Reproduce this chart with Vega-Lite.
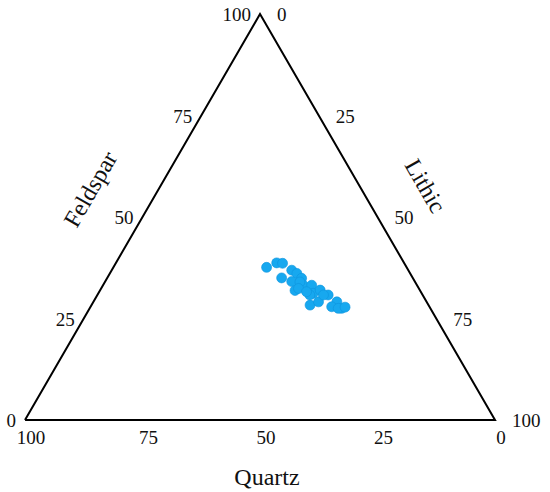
{
  "$schema": "https://vega.github.io/schema/vega-lite/v6.json",
  "width": 550,
  "height": 492,
  "autosize": {"type": "none"},
  "padding": 0,
  "background": "white",
  "view": {"stroke": null},
  "config": {"text": {"font": "Times New Roman, Liberation Serif, DejaVu Serif, serif", "color": "#111111"}},
  "datasets": {
    "triangle": [
      {"k": 0, "Q": 100, "F": 0, "L": 0},
      {"k": 1, "Q": 0, "F": 100, "L": 0},
      {"k": 2, "Q": 0, "F": 0, "L": 100},
      {"k": 3, "Q": 100, "F": 0, "L": 0}
    ],
    "ticks": [
      {"side": "Feldspar", "label": "0", "F": 0, "L": 0},
      {"side": "Feldspar", "label": "25", "F": 25, "L": 0},
      {"side": "Feldspar", "label": "50", "F": 50, "L": 0},
      {"side": "Feldspar", "label": "75", "F": 75, "L": 0},
      {"side": "Feldspar", "label": "100", "F": 100, "L": 0},
      {"side": "Lithic", "label": "0", "F": 100, "L": 0},
      {"side": "Lithic", "label": "25", "F": 75, "L": 25},
      {"side": "Lithic", "label": "50", "F": 50, "L": 50},
      {"side": "Lithic", "label": "75", "F": 25, "L": 75},
      {"side": "Lithic", "label": "100", "F": 0, "L": 100},
      {"side": "Quartz", "label": "100", "F": 0, "L": 0},
      {"side": "Quartz", "label": "75", "F": 0, "L": 25},
      {"side": "Quartz", "label": "50", "F": 0, "L": 50},
      {"side": "Quartz", "label": "25", "F": 0, "L": 75},
      {"side": "Quartz", "label": "0", "F": 0, "L": 100}
    ],
    "titles": [
      {"name": "Quartz", "F": 0, "L": 50},
      {"name": "Feldspar", "F": 50, "L": 0},
      {"name": "Lithic", "F": 50, "L": 50}
    ],
    "samples": [
      {"Q": 29.8, "F": 37.6, "L": 32.6},
      {"Q": 27.1, "F": 38.7, "L": 34.2},
      {"Q": 25.9, "F": 38.6, "L": 35.5},
      {"Q": 27.9, "F": 35.0, "L": 37.1},
      {"Q": 24.8, "F": 36.9, "L": 38.3},
      {"Q": 24.1, "F": 36.1, "L": 39.8},
      {"Q": 26.2, "F": 34.1, "L": 39.7},
      {"Q": 23.7, "F": 34.9, "L": 41.4},
      {"Q": 26.6, "F": 31.9, "L": 41.5},
      {"Q": 24.2, "F": 33.2, "L": 42.6},
      {"Q": 22.4, "F": 33.2, "L": 44.4},
      {"Q": 23.1, "F": 31.2, "L": 45.7},
      {"Q": 21.2, "F": 32.0, "L": 46.8},
      {"Q": 24.0, "F": 30.8, "L": 45.2},
      {"Q": 20.1, "F": 30.8, "L": 49.1},
      {"Q": 25.2, "F": 28.3, "L": 46.5},
      {"Q": 23.0, "F": 29.1, "L": 47.9},
      {"Q": 19.1, "F": 29.1, "L": 51.8},
      {"Q": 20.8, "F": 27.9, "L": 51.3},
      {"Q": 18.9, "F": 27.5, "L": 53.6},
      {"Q": 19.6, "F": 27.5, "L": 52.9},
      {"Q": 24.5, "F": 34.0, "L": 41.5},
      {"Q": 25.6, "F": 32.4, "L": 42.0},
      {"Q": 24.3, "F": 31.6, "L": 44.1},
      {"Q": 21.1, "F": 30.8, "L": 48.1},
      {"Q": 18.0, "F": 27.8, "L": 54.2}
    ]
  },
  "encoding": {
    "x": {"field": "px", "type": "quantitative", "scale": {"domain": [-5.32, 111.70], "nice": false, "zero": false}, "axis": null},
    "y": {"field": "py", "type": "quantitative", "scale": {"domain": [-17.73, 103.45], "nice": false, "zero": false}, "axis": null}
  },
  "layer": [
    {
      "data": {"name": "triangle"},
      "transform": [
        {"calculate": "datum.L + datum.F / 2", "as": "px"},
        {"calculate": "datum.F", "as": "py"}
      ],
      "mark": {"type": "line", "color": "#000000", "strokeWidth": 2, "strokeJoin": "miter"},
      "encoding": {"order": {"field": "k", "type": "quantitative"}}
    },
    {
      "data": {"name": "samples"},
      "transform": [
        {"calculate": "datum.L + datum.F / 2", "as": "px"},
        {"calculate": "datum.F", "as": "py"}
      ],
      "mark": {"type": "circle", "size": 100, "color": "#17a8ef", "opacity": 1, "stroke": "#0e93dd", "strokeWidth": 0.6}
    },
    {
      "data": {"name": "ticks"},
      "transform": [
        {"filter": "datum.side === 'Feldspar'"},
        {"calculate": "datum.L + datum.F / 2", "as": "px"},
        {"calculate": "datum.F", "as": "py"}
      ],
      "mark": {"type": "text", "align": "right", "baseline": "middle", "dx": -9, "dy": 1, "fontSize": 19},
      "encoding": {"text": {"field": "label"}}
    },
    {
      "data": {"name": "ticks"},
      "transform": [
        {"filter": "datum.side === 'Lithic'"},
        {"calculate": "datum.L + datum.F / 2", "as": "px"},
        {"calculate": "datum.F", "as": "py"}
      ],
      "mark": {"type": "text", "align": "left", "baseline": "middle", "dx": 17, "dy": 1, "fontSize": 19},
      "encoding": {"text": {"field": "label"}}
    },
    {
      "data": {"name": "ticks"},
      "transform": [
        {"filter": "datum.side === 'Quartz'"},
        {"calculate": "datum.L + datum.F / 2", "as": "px"},
        {"calculate": "datum.F", "as": "py"}
      ],
      "mark": {"type": "text", "align": "center", "baseline": "middle", "dx": 6, "dy": 18, "fontSize": 19},
      "encoding": {"text": {"field": "label"}}
    },
    {
      "data": {"name": "titles"},
      "transform": [
        {"filter": "datum.name === 'Quartz'"},
        {"calculate": "datum.L + datum.F / 2", "as": "px"},
        {"calculate": "datum.F", "as": "py"}
      ],
      "mark": {"type": "text", "align": "center", "baseline": "middle", "dx": 7, "dy": 58, "fontSize": 24},
      "encoding": {"text": {"field": "name"}}
    },
    {
      "data": {"name": "titles"},
      "transform": [
        {"filter": "datum.name === 'Feldspar'"},
        {"calculate": "datum.L + datum.F / 2", "as": "px"},
        {"calculate": "datum.F", "as": "py"}
      ],
      "mark": {"type": "text", "align": "center", "baseline": "middle", "angle": -60, "dx": -2, "dy": -58, "fontSize": 24},
      "encoding": {"text": {"field": "name"}}
    },
    {
      "data": {"name": "titles"},
      "transform": [
        {"filter": "datum.name === 'Lithic'"},
        {"calculate": "datum.L + datum.F / 2", "as": "px"},
        {"calculate": "datum.F", "as": "py"}
      ],
      "mark": {"type": "text", "align": "center", "baseline": "middle", "angle": 60, "dx": -3, "dy": -56, "fontSize": 24},
      "encoding": {"text": {"field": "name"}}
    }
  ]
}
